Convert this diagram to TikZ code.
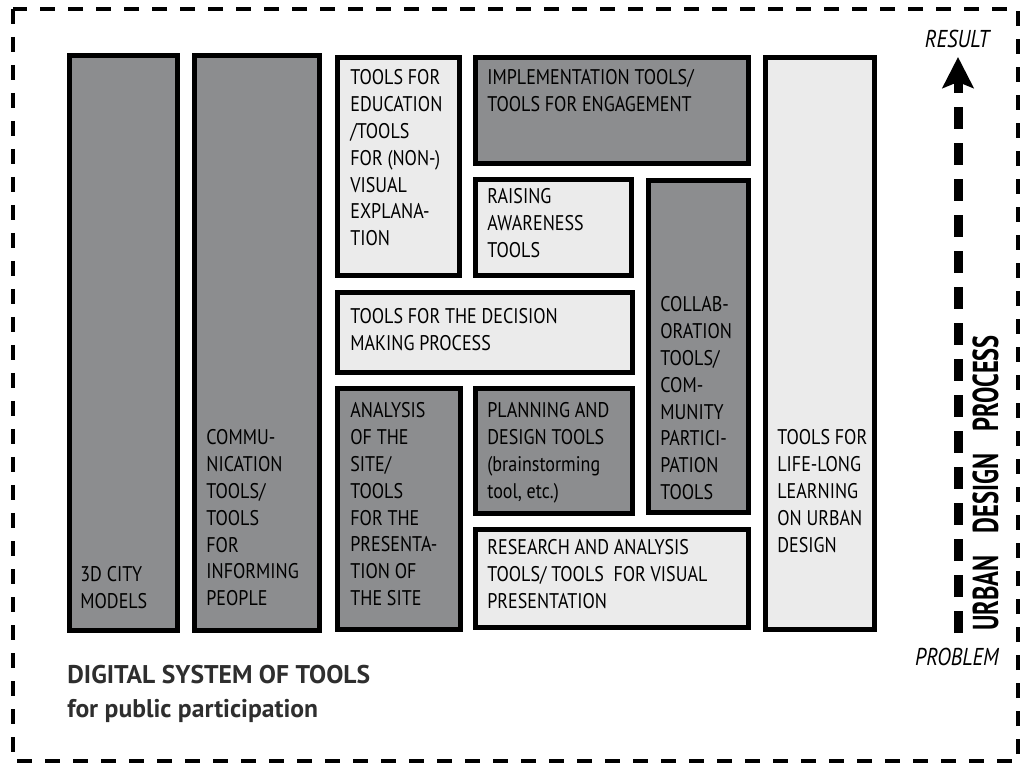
\documentclass[tikz,border=0pt]{standalone}
\usepackage{fontspec}
\setmainfont{PT Sans}[FakeStretch=0.85]
\newfontfamily\condsans{PT Sans}[FakeStretch=0.68]
\newfontfamily\capsans{PT Sans}
\usetikzlibrary{arrows.meta}

\definecolor{boxdark}{HTML}{8C8D8F}
\definecolor{boxlight}{HTML}{EBEBEB}
\definecolor{inkgray}{HTML}{2E2E2E}

\tikzset{
  darkbox/.style  = {draw=black, line width=2.5pt, fill=boxdark},
  lightbox/.style = {draw=black, line width=2.5pt, fill=boxlight},
  boxtext/.style  = {anchor=north west, inner sep=0pt, align=left,
                     text=black,
                     font=\fontsize{10.6}{13.4}\selectfont,
                     execute at begin node=\rule{0pt}{9pt}},
  endtext/.style  = {anchor=base, inner sep=0pt,
                     font=\fontsize{12.2}{13}\selectfont\itshape}
}

\begin{document}
\begin{tikzpicture}[x=0.5pt, y=-0.5pt]
  \useasboundingbox (0,0) rectangle (1021,763);
  % outer frame
  \draw[line width=1.6pt, dash pattern=on 7.5pt off 6.5pt] (13,9) rectangle (1018,761);

  % tall columns on the left and right
  \draw[darkbox]  (69.5,55.5)  rectangle (177.5,630.5);
  \draw[darkbox]  (194.5,55.5) rectangle (319.5,630.5);
  \draw[lightbox] (765.5,57.5) rectangle (874.5,629.5);
  % middle block
  \draw[lightbox] (337.5,57.5)  rectangle (459.5,275.5);
  \draw[darkbox]  (475.5,57.5)  rectangle (748.5,163.5);
  \draw[lightbox] (475.5,179.5) rectangle (631.5,275.5);
  \draw[darkbox]  (648.5,180.5) rectangle (748.5,512.5);
  \draw[lightbox] (337.5,292.5) rectangle (632.5,372.5);
  \draw[darkbox]  (337.5,388.5) rectangle (460.5,629.5);
  \draw[darkbox]  (475.5,388.5) rectangle (632.5,513.5);
  \draw[lightbox] (475.5,529.5) rectangle (748.5,627.5);

  % box texts
  \node[boxtext] (city)      at (80,566.5)  {3D CITY\\MODELS};
  \node[boxtext] (inform)    at (206,429.5) {COMMU-\\NICATION\\TOOLS/\\TOOLS\\FOR\\INFORMING\\PEOPLE};
  \node[boxtext] (education) at (350,69.5)  {TOOLS FOR\\EDUCATION\\/TOOLS\\FOR (NON-)\\VISUAL\\EXPLANA-\\TION};
  \node[boxtext] (engage)    at (487,69.5)  {IMPLEMENTATION TOOLS/\\TOOLS FOR ENGAGEMENT};
  \node[boxtext] (awareness) at (487,188.5) {RAISING\\AWARENESS\\TOOLS};
  \node[boxtext] (collab)    at (660,296.5) {COLLAB-\\ORATION\\TOOLS/\\COM-\\MUNITY\\PARTICI-\\PATION\\TOOLS};
  \node[boxtext] (decision)  at (350,308.5) {TOOLS FOR THE DECISION\\MAKING PROCESS};
  \node[boxtext] (site)      at (350,402.5) {ANALYSIS\\OF THE\\SITE/\\TOOLS\\FOR THE\\PRESENTA-\\TION OF\\THE SITE};
  \node[boxtext] (planning)  at (487,402.5) {PLANNING AND\\DESIGN TOOLS\\(brainstorming\\tool, etc.)};
  \node[boxtext] (research)  at (487,539.5) {RESEARCH AND ANALYSIS\\TOOLS/ TOOLS\ \ FOR VISUAL\\PRESENTATION};
  \node[boxtext] (lifelong)  at (777,429.5) {TOOLS FOR\\LIFE-LONG\\LEARNING\\ON URBAN\\DESIGN};

  % process arrow
  \node[endtext] (result)  at (957,48)  {RESULT};
  \node[endtext] (problem) at (957,665) {PROBLEM};
  \coordinate (start) at (958,633);
  \coordinate (goal)  at (958,57);
  \draw[line width=4.5pt, dash pattern=on 11pt off 7pt,
        -{Stealth[length=15.5pt, width=15.5pt, inset=3pt]}] (start) -- (goal);
  \node[rotate=90, anchor=base, inner sep=0pt,
        font=\condsans\bfseries\fontsize{18}{20}\selectfont] (process) at (998,483)
        {URBAN\hspace{11pt}DESIGN\hspace{11pt}PROCESS};

  % caption
  \node[anchor=base west, inner sep=0pt, text=inkgray,
        font=\capsans\bfseries\fontsize{12.8}{14}\selectfont] (title) at (67,683)
        {DIGITAL SYSTEM OF TOOLS};
  \node[anchor=base west, inner sep=0pt, text=inkgray,
        font=\capsans\bfseries\fontsize{12.8}{14}\selectfont] (subtitle) at (67,717)
        {for public participation};
\end{tikzpicture}
\end{document}
